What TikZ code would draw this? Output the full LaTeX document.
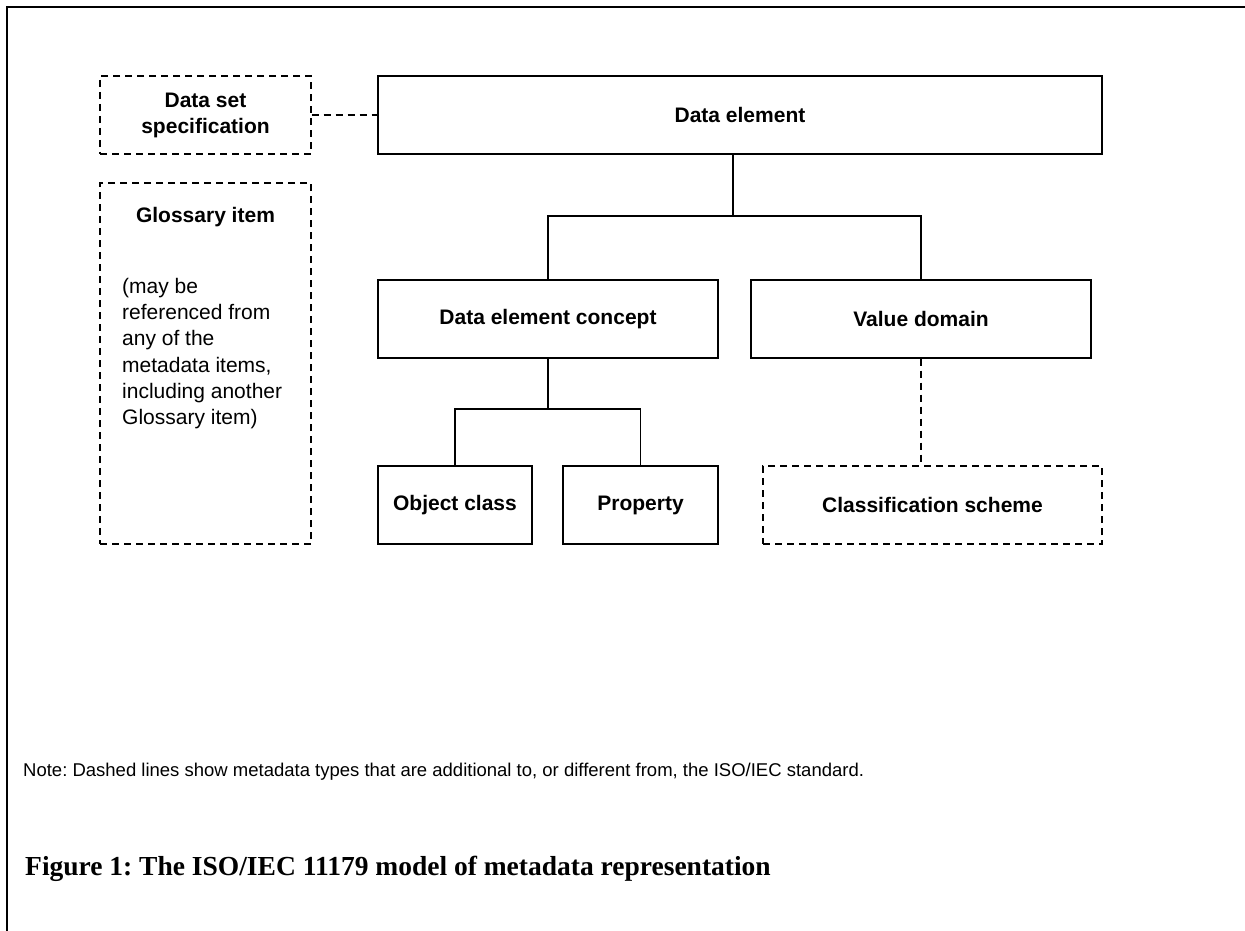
\documentclass[tikz,border=0pt]{standalone}
\usepackage{fontspec}
\setmainfont{Liberation Sans}
\newfontfamily\capfont{Liberation Serif}
\frenchspacing

\tikzset{
  box/.style={draw,line width=1.4pt,inner sep=0pt,align=center,
    font=\bfseries\fontsize{21}{26}\selectfont},
  dashbox/.style={box,dash pattern=on 7pt off 5pt},
  link/.style={line width=1.4pt},
  dashlink/.style={link,dash pattern=on 7pt off 5pt}
}

\begin{document}
\begin{tikzpicture}[x=1pt,y=-1pt]

      \useasboundingbox (0,0) rectangle (1245,931);
      \draw[line width=2pt] (1245,7) -- (7,7) -- (7,931);

      \begin{scope}[every node/.style={box,minimum height=78pt}]
        \node[minimum width=724pt] (de)   at (740,115)   {Data element};
        \node[minimum width=340pt] (dec)  at (548,319)   {Data element concept};
        \node[minimum width=340pt] (vd)   at (921,319)   {Value domain};
        \node[minimum width=154pt] (oc)   at (455,505)   {Object class};
        \node[minimum width=155pt] (prop) at (640.5,505) {Property};
      \end{scope}

      \begin{scope}[every node/.style={dashbox}]
        \node[minimum width=211pt,minimum height=78pt]  (dss) at (205.5,115) {Data set\\specification};
        \node[minimum width=339pt,minimum height=78pt]  (cs)  at (932.5,505) {Classification scheme};
        \node[minimum width=211pt,minimum height=361pt] (gl)  at (205.5,363.5) {};
      \end{scope}

      \node[font=\bfseries\fontsize{21}{26}\selectfont] (gltitle) at (205.5,217) {Glossary item};
      \node[anchor=north west,inner sep=0pt,align=left,font=\fontsize{21}{26.2}\selectfont]
        (glnote) at (122,278) {(may be\\referenced from\\any of the\\metadata items,\\including another\\Glossary item)};

      % tree connectors
      \coordinate (j1) at (733,216);
      \coordinate (j2) at (548,409);
      \draw[link] (j1 |- de.south) -- (j1);
      \draw[link] (dec.north) |- (j1) -| (vd.north);
      \draw[link] (dec.south) -- (j2);
      \draw[link] (oc.north) |- (j2) -| (prop.north);

      % additional links
      \draw[dashlink] (dss.east) -- (de.west);
      \draw[dashlink] (vd.south) -- (vd.south |- cs.north);

      \node[anchor=base west,inner sep=0pt,font=\fontsize{18.5}{22}\selectfont] (note) at (23,776)
        {Note: Dashed lines show metadata types that are additional to, or different from, the ISO/IEC standard.};
      \node[anchor=base west,inner sep=0pt,font=\capfont\bfseries\fontsize{27.5}{32}\selectfont] (caption) at (25,875)
        {Figure 1: The ISO/IEC 11179 model of metadata representation};

    \end{tikzpicture}
\end{document}
